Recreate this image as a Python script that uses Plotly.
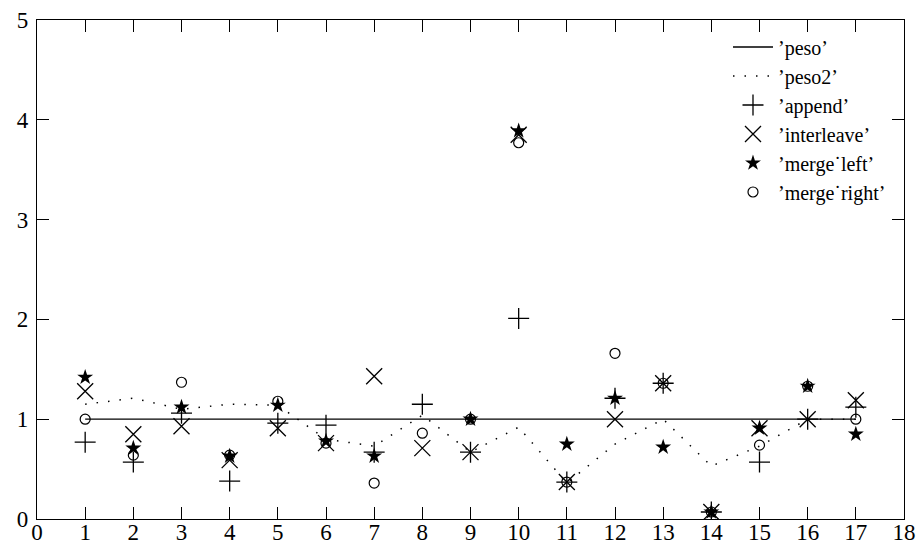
import plotly.graph_objects as go

x_vals = list(range(1, 18))
peso = [1.0] * 17
peso2 = [1.15, 1.21, 1.10, 1.15, 1.14, 0.80, 0.73, 1.04, 0.67, 0.92, 0.36, 0.75, 1.00, 0.53, 0.73, 1.00, 1.00]
append = [0.77, 0.57, 1.06, 0.38, 0.96, 0.94, 0.67, 1.15, 0.67, 2.01, 0.37, 1.21, 1.36, 0.07, 0.57, 1.00, 1.12]
interleave = [1.28, 0.85, 0.93, 0.59, 0.91, 0.76, 1.43, 0.71, 0.67, 3.85, 0.37, 1.00, 1.36, 0.07, 0.91, 1.00, 1.19]
merge_left = [1.42, 0.71, 1.12, 0.63, 1.14, 0.78, 0.63, None, 1.00, 3.89, 0.75, 1.21, 0.72, 0.07, 0.91, 1.33, 0.85]
merge_right = [1.00, 0.64, 1.37, 0.64, 1.18, 0.76, 0.36, 0.86, 1.00, 3.77, 0.37, 1.66, 1.36, 0.07, 0.74, 1.33, 1.00]

names = ["’peso’", "’peso2’", "’append’", "’interleave’", "’merge˙left’", "’merge˙right’"]
x_ticks = list(range(0, 19))
y_ticks = list(range(0, 6))

FONT = "Liberation Serif"
fig = go.Figure()
fig.add_trace(go.Scatter(x=x_vals, y=peso, mode="lines", name=names[0],
                         line=dict(color="black", width=1.3)))
fig.add_trace(go.Scatter(x=x_vals, y=peso2, mode="lines", name=names[1],
                         line=dict(color="black", width=1.5, dash="1.5px,10px")))
fig.add_trace(go.Scatter(x=x_vals, y=append, mode="markers", name=names[2],
                         marker=dict(symbol="cross-thin-open", size=15,
                                     line=dict(color="black", width=1.3), color="black")))
fig.add_trace(go.Scatter(x=x_vals, y=interleave, mode="markers", name=names[3],
                         marker=dict(symbol="x-thin-open", size=16,
                                     line=dict(color="black", width=1.3), color="black")))
fig.add_trace(go.Scatter(x=x_vals, y=merge_left, mode="markers", name=names[4],
                         marker=dict(symbol="star", size=12, color="black",
                                     line=dict(width=0))))
fig.add_trace(go.Scatter(x=x_vals, y=merge_right, mode="markers", name=names[5],
                         marker=dict(symbol="circle-open", size=10,
                                     line=dict(color="black", width=1.2), color="black")))

axis_common = dict(showgrid=False, zeroline=False, showline=True, linecolor="black",
                   linewidth=1.3, mirror="ticks", ticks="inside", ticklen=12,
                   tickcolor="black", tickwidth=1.2, automargin=False,
                   tickfont=dict(family=FONT, size=23, color="black"))
fig.update_xaxes(range=[0, 18], tickmode="array", tickvals=x_ticks,
                 ticktext=[str(v) for v in x_ticks], ticklabelstandoff=-8, **axis_common)
fig.update_yaxes(range=[0, 5], tickmode="array", tickvals=y_ticks,
                 ticktext=[str(v) for v in y_ticks], ticklabelstandoff=3, **axis_common)

fig.update_layout(
    width=922, height=559,
    margin=dict(l=37, r=18, t=20, b=40, autoexpand=False),
    plot_bgcolor="white", paper_bgcolor="white",
    font=dict(family=FONT, color="black"),
    legend=dict(x=0.985, y=0.985, xanchor="right", yanchor="top",
                bgcolor="rgba(0,0,0,0)", font=dict(family=FONT, size=20, color="black"),
                tracegroupgap=0, itemwidth=40),
)
fig.write_html("out.html", config={"displayModeBar": False},
               post_script="document.body.style.margin='0';document.body.style.padding='0';"
                           "document.body.style.overflow='hidden';")
